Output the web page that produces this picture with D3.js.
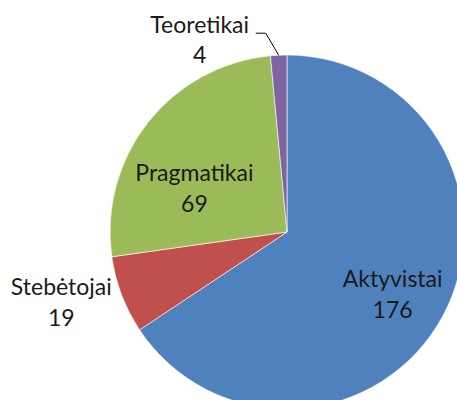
<!DOCTYPE html>
<html lang="en">
  <head>
    <meta charset="UTF-8" />
    <title>Pie</title>
    <style>
      * { margin: 0; padding: 0; }
      body { background: #fff; }
      text { font-family: Lato, "Open Sans", sans-serif; font-size: 23px; fill: #1a1a1a; }
    </style>
  </head>
  <body>
    <script src="https://d3js.org/d3.v7.min.js"></script>
    <script>
      const names = ["Aktyvistai", "Stebėtojai", "Pragmatikai", "Teoretikai"];
      const values = [176, 19, 69, 4];
      const colors = ["#4F81BD", "#C0504D", "#9BBB59", "#8064A2"];

      const width = 457;
      const height = 400;
      const cx = 287, cy = 232, radius = 177;

      // label placement (radius as share of pie radius + small nudge)
      const labelLayout = {
        "Aktyvistai": { r: 0.69, dx: -2, dy: 4 },
        "Stebėtojai": { r: 1.34, dx: -4, dy: -14 },
        "Pragmatikai": { r: 0.58, dx: -12, dy: 20 },
        "Teoretikai": { r: 1.0, dx: 0, dy: 0 }
      };
      const lineGap = 31;

      const data = names.map((n, i) => ({ name: n, value: values[i], color: colors[i] }));

      const svg = d3.select("body").append("svg")
        .attr("width", width)
        .attr("height", height);

      const pie = d3.pie().sort(null).value(d => d.value);
      const arcs = pie(data);

      const arc = d3.arc().innerRadius(0).outerRadius(radius);

      const g = svg.append("g").attr("transform", `translate(${cx},${cy})`);

      g.selectAll("path")
        .data(arcs)
        .join("path")
        .attr("d", arc)
        .attr("fill", d => d.data.color)
        .attr("stroke", "#fff")
        .attr("stroke-width", 0.6);

      const mid = d => (d.startAngle + d.endAngle) / 2;
      const polar = (a, r) => [r * Math.sin(a), -r * Math.cos(a)];

      // inside / near labels
      const inner = arcs.filter(d => d.data.name !== "Teoretikai");
      inner.forEach(d => {
        const lay = labelLayout[d.data.name];
        const [x, y] = polar(mid(d), radius * lay.r);
        const lx = x + lay.dx, ly = y + lay.dy;
        const t = g.append("text").attr("text-anchor", "middle");
        t.append("tspan").attr("x", lx).attr("y", ly - 7).text(d.data.name);
        t.append("tspan").attr("x", lx).attr("y", ly - 7 + lineGap).text(d.data.value);
      });

      // small slice: label outside with leader line
      const small = arcs.find(d => d.data.name === "Teoretikai");
      const [ex, ey] = polar(mid(small), radius);
      const elbow = [ex - 13, ey - 22];
      const end = [elbow[0] - 10, elbow[1]];
      g.append("path")
        .attr("d", d3.line()([[ex, ey], elbow, end]))
        .attr("fill", "none")
        .attr("stroke", "#000")
        .attr("stroke-width", 1);

      const tx = end[0] - 56;
      const st = g.append("text").attr("text-anchor", "middle");
      st.append("tspan").attr("x", tx).attr("y", end[1]).text(small.data.name);
      st.append("tspan").attr("x", tx).attr("y", end[1] + 30).text(small.data.value);
    </script>
  </body>
</html>
